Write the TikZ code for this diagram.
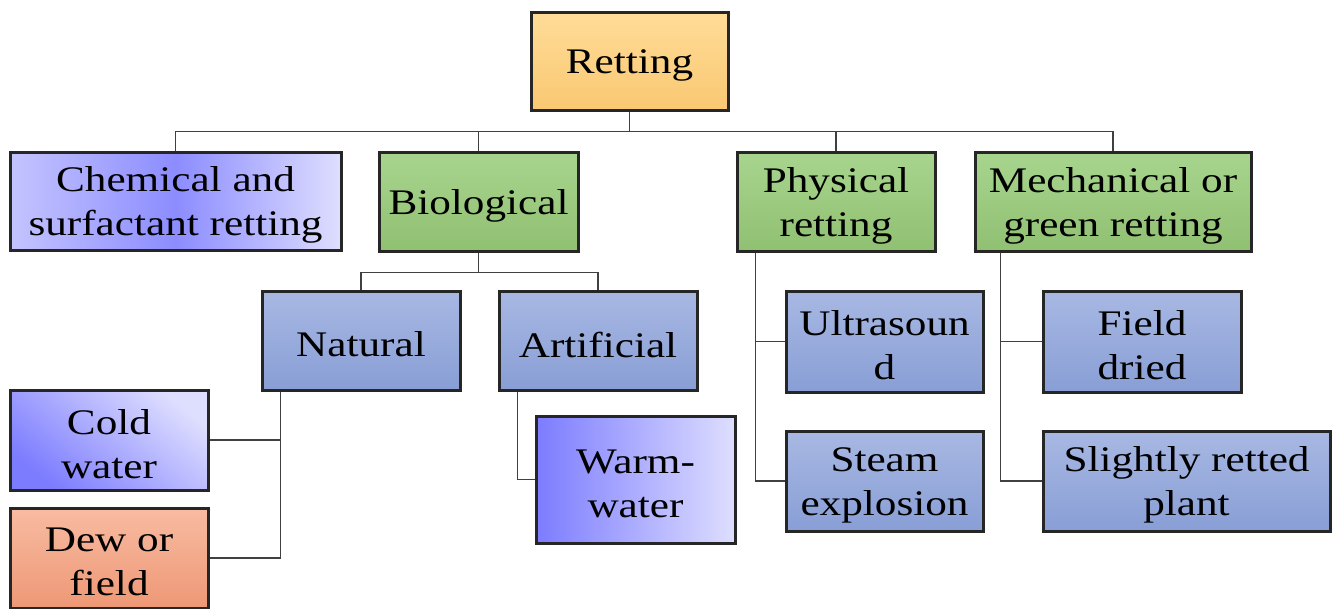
\documentclass[tikz,border=0pt]{standalone}
\usepackage{fontspec}
\setmainfont{Liberation Serif}[FakeStretch=1.2]
\definecolor{bluetop}{HTML}{A8B8E3}
\definecolor{bluebot}{HTML}{889ED5}
\definecolor{greentop}{HTML}{A8D58E}
\definecolor{greenbot}{HTML}{90C072}
\definecolor{orangetop}{HTML}{FFDC98}
\definecolor{orangebot}{HTML}{F9C872}
\definecolor{salmontop}{HTML}{F8BBA2}
\definecolor{salmonbot}{HTML}{EE9875}
\definecolor{violetdark}{HTML}{7C7CFF}
\definecolor{violetmid}{HTML}{8C8CFF}
\definecolor{violetlight}{HTML}{DEDEFF}
\definecolor{violetleft}{HTML}{C4C4FF}
\definecolor{linkgray}{HTML}{404040}
\begin{document}
\begin{tikzpicture}[x=1pt,y=-1pt,
  txt/.style={align=center, inner sep=0pt, yshift=-4pt, font=\fontsize{36}{44}\selectfont},
  boxbase/.style={draw=black!85, line width=3pt, rectangle, inner sep=0pt,
    label={[txt]center:{#1}}},
  bluebox/.style={boxbase={#1}, top color=bluetop, bottom color=bluebot},
  greenbox/.style={boxbase={#1}, top color=greentop, bottom color=greenbot},
  link/.style={draw=linkgray, line width=1.6pt}]
\useasboundingbox (0,0) rectangle (1335,608);

\node[boxbase={Retting}, top color=orangetop, bottom color=orangebot,
  minimum width=197, minimum height=98] (ret) at (629.5,61) {};

\node[boxbase={Chemical and\\surfactant retting}, left color=violetleft, right color=violetlight, middle color=violetmid,
  minimum width=331, minimum height=98] (chem) at (175.5,201) {};
\node[greenbox={Biological}, minimum width=199, minimum height=99] (bio) at (478.5,201.5) {};
\node[greenbox={Physical\\retting}, minimum width=198, minimum height=99] (phys) at (836,201.5) {};
\node[greenbox={Mechanical or\\green retting}, minimum width=276, minimum height=99] (mech) at (1113,201.5) {};

\node[bluebox={Natural}, minimum width=198, minimum height=99] (nat) at (361,340.5) {};
\node[bluebox={Artificial}, minimum width=198, minimum height=99] (art) at (598,340.5) {};

\node[boxbase={Cold\\water}, top color=violetlight, bottom color=violetdark, shading angle=-40,
  minimum width=198, minimum height=100] (cold) at (109,440) {};
\node[boxbase={Dew or\\field}, top color=salmontop, bottom color=salmonbot,
  minimum width=198, minimum height=100] (dew) at (109,558) {};
\node[boxbase={Warm-\\water}, left color=violetdark, right color=violetlight,
  minimum width=199, minimum height=127] (warm) at (635.5,479.5) {};

\node[bluebox={Ultrasoun\\d}, minimum width=197, minimum height=101] (ultra) at (884.5,341.5) {};
\node[bluebox={Steam\\explosion}, minimum width=197, minimum height=100] (steam) at (884.5,481) {};
\node[bluebox={Field\\dried}, minimum width=198, minimum height=101] (field) at (1142,341.5) {};
\node[bluebox={Slightly retted\\plant}, minimum width=287, minimum height=100] (slight) at (1186.5,481) {};

% connectors
\draw[link] (ret.south) -- ++(0,20) -| (chem.north);
\draw[link] (ret.south) -- ++(0,20) -| (bio.north);
\draw[link] (ret.south) -- ++(0,20) -| (phys.north);
\draw[link] (ret.south) -- ++(0,20) -| (mech.north);

\draw[link] (bio.south) -- ++(0,20) -| (nat.north);
\draw[link] (bio.south) -- ++(0,20) -| (art.north);

\draw[link] ([xshift=20pt]nat.south west) |- (cold.east);
\draw[link] ([xshift=20pt]nat.south west) |- (dew.east);
\draw[link] ([xshift=20pt]art.south west) |- (warm.west);

\draw[link] ([xshift=20pt]phys.south west) |- (ultra.west);
\draw[link] ([xshift=20pt]phys.south west) |- (steam.west);
\draw[link] ([xshift=27pt]mech.south west) |- (field.west);
\draw[link] ([xshift=27pt]mech.south west) |- (slight.west);
\end{tikzpicture}
\end{document}
